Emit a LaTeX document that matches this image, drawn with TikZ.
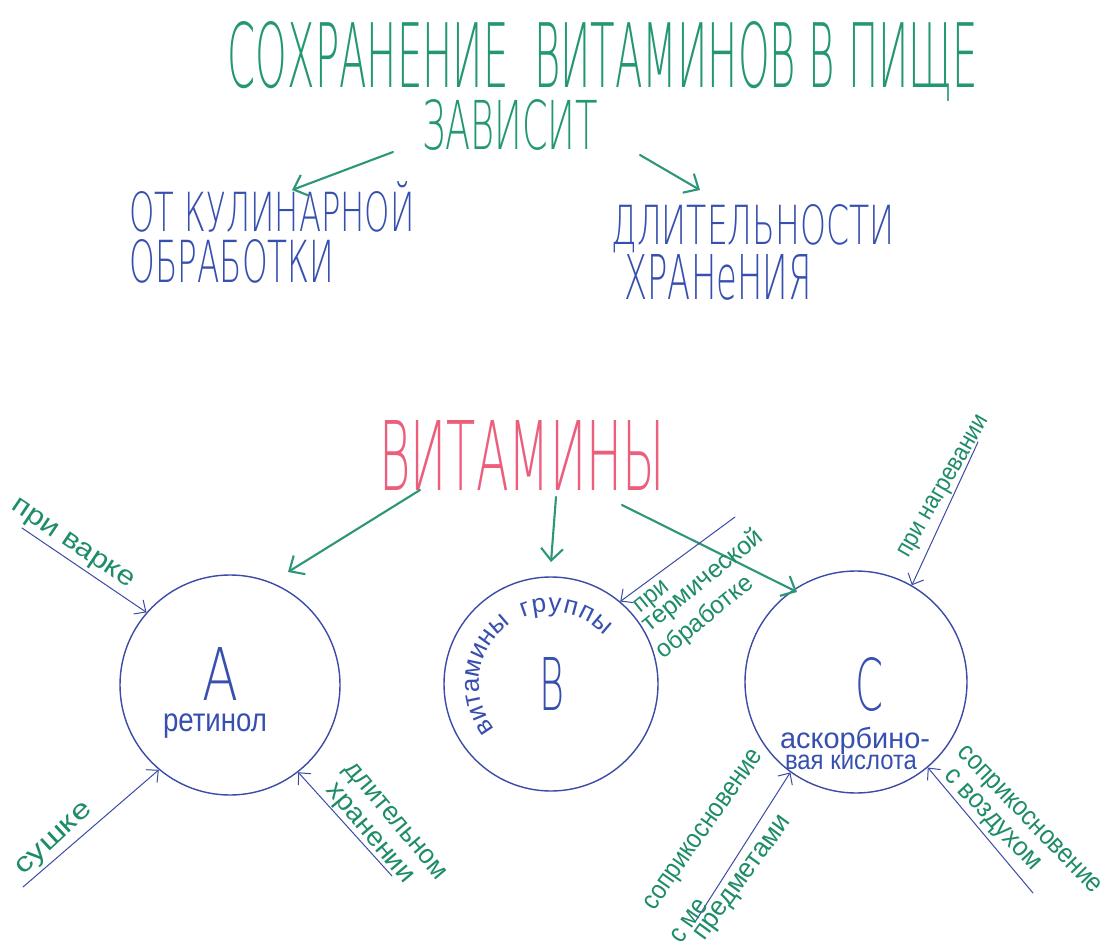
\documentclass[tikz,border=0pt]{standalone}
\usepackage{fontspec}
\setmainfont{Liberation Sans}
\newfontfamily\thinf{DejaVu Sans ExtraLight}
\usepackage{graphicx}
\usetikzlibrary{arrows.meta,decorations.text}
\definecolor{greenT}{RGB}{30,140,105}
\definecolor{greenH}{RGB}{35,150,115}
\definecolor{greenA}{RGB}{45,150,120}
\definecolor{blueT}{RGB}{55,80,175}
\definecolor{blueL}{RGB}{60,75,165}
\definecolor{pinkT}{RGB}{235,95,125}
\newcommand{\fbx}[3]{\resizebox{#1pt}{#2pt}{#3}}
\newcommand{\wbx}[2]{\resizebox{#1pt}{\height}{#2}}
\newcommand{\curvedB}{%
  \tikz[x=1pt,y=1pt]{%
    \useasboundingbox (-100,-100) rectangle (100,100);
    \path[decorate, decoration={text along path, text={|\fontsize{26}{26}\selectfont|витамины}, text color=blueT, text align=fit to path}]
      (219:72) arc[start angle=219, end angle=125, radius=72];
    \path[decorate, decoration={text along path, text={|\fontsize{26}{26}\selectfont|группы}, text color=blueT, text align=fit to path}]
      (113:72) arc[start angle=113, end angle=42, radius=72];
  }}
\begin{document}
\begin{tikzpicture}[x=1pt,y=-1pt,
  garrow/.style={draw=greenA, line width=2.1pt, line cap=round, -{Straight Barb[length=12pt,width=22pt]}},
  barrow/.style={draw=blueL, line width=1pt, line cap=round, -{Straight Barb[length=9pt,width=17pt]}},
  vcirc/.style={circle, draw=blueL, line width=1.4pt, inner sep=0pt},
  gtxt/.style={text=greenT, inner sep=0pt},
  htxt/.style={text=greenH, inner sep=0pt, font=\thinf},
  btxt/.style={text=blueT, inner sep=0pt},
  bhtxt/.style={text=blueT, inner sep=0pt, font=\thinf},
  lab/.style={gtxt, font=\fontsize{27}{27}\selectfont},
  ilab/.style={btxt, font=\fontsize{29}{29}\selectfont},
]
\fill[white] (0,0) rectangle (1110,949);
\useasboundingbox (0,0) rectangle (1110,949);

% heading
\node[htxt, anchor=base] (title) at (603,88) {\fbx{750}{66}{СОХРАНЕНИЕ\ \ ВИТАМИНОВ В ПИЩЕ}};
\node[htxt, anchor=base] (zav) at (510,150) {\fbx{176}{50}{ЗАВИСИТ}};
\node[bhtxt, anchor=base] (kul1) at (272,232) {\fbx{285}{50}{ОТ КУЛИНАРНОЙ}};
\node[bhtxt, anchor=base] (kul2) at (232,283) {\fbx{205}{43}{ОБРАБОТКИ}};
\node[bhtxt, anchor=base] (dl1) at (753,245) {\fbx{283}{40}{ДЛИТЕЛЬНОСТИ}};
\node[bhtxt, anchor=base] (dl2) at (718,300) {\fbx{187}{45}{ХРАНеНИЯ}};

\coordinate (z1) at (393,152); \coordinate (k1) at (292,190);
\coordinate (z2) at (640,155); \coordinate (d1) at (700,190);
\draw[garrow] (z1) -- (k1);
\draw[garrow] (z2) -- (d1);

% vitamins
\node[text=pinkT, inner sep=0pt, anchor=base, font=\thinf] (vit) at (522,490) {\fbx{285}{70}{ВИТАМИНЫ}};

\node[vcirc, minimum size=220pt] (A) at (230,685) {};
\node[vcirc, minimum size=214pt] (B) at (551,684) {};
\node[vcirc, minimum size=222pt] (C) at (856,682) {};

\coordinate (v1) at (420,490); \coordinate (va) at (288,572);
\coordinate (v2) at (556,497); \coordinate (vb) at (551,562);
\coordinate (v3) at (622,505); \coordinate (vc) at (797,592);
\draw[garrow] (v1) -- (va);
\draw[garrow] (v2) -- (vb);
\draw[garrow] (v3) -- (vc);

% circle contents
\node[bhtxt, anchor=base] (Aa) at (220,700) {\fbx{36}{53}{A}};
\node[btxt, font=\fontsize{33}{33}\selectfont] (ret) at (215,726) {\wbx{104}{ретинол}};
\node[bhtxt, anchor=base] (Bb) at (552,710) {\fbx{25}{53}{B}};
\node[inner sep=0pt] (Btxt) at (551,684) {\curvedB};
\node[bhtxt, anchor=base] (Cc) at (869,710) {\fbx{28}{53}{C}};
\node[ilab] (asc1) at (855,741) {\wbx{150}{аскорбино-}};
\node[btxt, font=\fontsize{27}{27}\selectfont] (asc2) at (851,762) {\wbx{132}{вая кислота}};

% factor arrows
\coordinate (pv) at (22,528);   \draw[barrow] (pv) -- (A.139);
\coordinate (su) at (23,887);   \draw[barrow] (su) -- (A.230);
\coordinate (dh) at (392,876);  \draw[barrow] (dh) -- (A.308);
\coordinate (tt) at (735,517);  \draw[barrow] (tt) -- (B.50);
\coordinate (ng) at (978,442);  \draw[barrow] (ng) -- (C.60);
\coordinate (vz) at (1033,893); \draw[barrow] (vz) -- (C.310);
\coordinate (pm) at (695,922);  \draw[barrow] (pm) -- (C.234);

% factor labels
\node[lab, rotate=-34] (l1) at (72,545) {\wbx{142}{при варке}};
\node[lab, rotate=43] (l2) at (55,840) {\wbx{95}{сушке}};
\node[lab, rotate=-50] (l3a) at (394,822) {\wbx{146}{длительном}};
\node[lab, rotate=-50] (l3b) at (368,835) {\wbx{123}{хранении}};
\node[lab, font=\fontsize{25}{25}\selectfont, rotate=39] (l4a) at (653,598) {\wbx{38}{при}};
\node[lab, font=\fontsize{25}{25}\selectfont, rotate=39] (l4b) at (703,581) {\wbx{148}{термической}};
\node[lab, font=\fontsize{25}{25}\selectfont, rotate=39] (l4c) at (705,618) {\wbx{117}{обработке}};
\node[lab, font=\fontsize{25}{25}\selectfont, rotate=60] (l5) at (945,487) {\wbx{160}{при нагревании}};
\node[lab, rotate=-46] (l6a) at (1028,821) {\wbx{196}{соприкосновение}};
\node[lab, rotate=-47] (l6b) at (991,821) {\wbx{130}{с воздухом}};
\node[lab, rotate=55] (l7a) at (705,831) {\wbx{190}{соприкосновение}};
\node[lab, rotate=55] (l7b) at (689,921) {\wbx{48}{с ме}};
\node[lab, rotate=54] (l7c) at (744,879) {\wbx{148}{предметами}};
\end{tikzpicture}
\end{document}
